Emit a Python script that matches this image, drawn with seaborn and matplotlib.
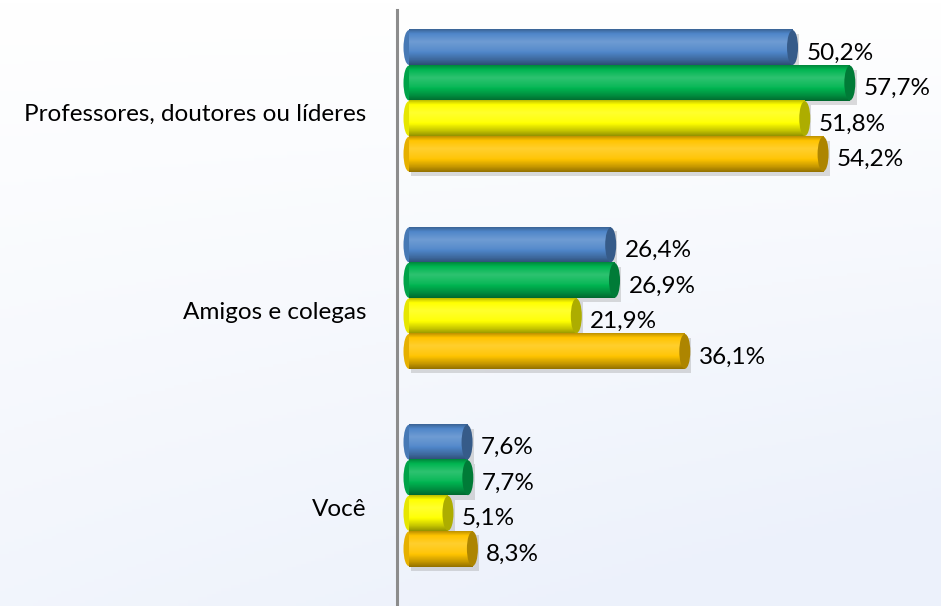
import numpy as np
import pandas as pd
import matplotlib
matplotlib.use("Agg")
import matplotlib.pyplot as plt
import matplotlib.colors as mcolors
from matplotlib.patches import Ellipse
from matplotlib.transforms import ScaledTranslation
import seaborn as sns

categories = ["Professores, doutores ou líderes", "Amigos e colegas", "Você"]
series_names = ["Série 1", "Série 2", "Série 3", "Série 4"]
serie1 = [50.2, 26.4, 7.6]
serie2 = [57.7, 26.9, 7.7]
serie3 = [51.8, 21.9, 5.1]
serie4 = [54.2, 36.1, 8.3]

rows = []
for name, vals in zip(series_names, [serie1, serie2, serie3, serie4]):
    for c, v in zip(categories, vals):
        rows.append({"categoria": c, "serie": name, "valor": v})
df = pd.DataFrame(rows)

colors = ["#4F86C9", "#00B551", "#FFFF00", "#FFC400"]

sns.set_theme(style="white")
plt.rcParams["font.family"] = ["Lato", "DejaVu Sans"]

fig = plt.figure(figsize=(9.41, 6.06), dpi=100)

# background gradient
bg = fig.add_axes([0, 0, 1, 1], zorder=-10)
yy, xx = np.mgrid[0:1:200j, 0:1:200j]
t = np.clip(0.55 * yy + 0.45 * xx * yy + 0.15 * yy, 0, 1)
top = np.array(mcolors.to_rgb("#FFFFFF"))
bot = np.array(mcolors.to_rgb("#ECF1FB"))
img = top[None, None, :] * (1 - t[..., None]) + bot[None, None, :] * t[..., None]
bg.imshow(img, aspect="auto", extent=(0, 1, 0, 1))
bg.axis("off")

ax = fig.add_axes([397 / 941, 0, 1 - 397 / 941, 1 - 10 / 606])
ax.patch.set_alpha(0)

sns.barplot(data=df, y="categoria", x="valor", hue="serie", orient="h",
            palette=colors, width=0.72, gap=0, dodge=True, ax=ax,
            legend=False, saturation=1, edgecolor="none")

s_px = 7.64
xmin = -12 / s_px
xmax = (941 - 409) / s_px
cap_w = 11 / s_px


def shade(rgb, n=60):
    tt = np.linspace(0, 1, n)
    light = np.interp(tt, [0, 0.12, 0.35, 0.6, 0.85, 1.0],
                      [-0.25, 0.0, 0.18, 0.05, -0.22, -0.42])
    out = np.empty((n, 1, 3))
    for i, l in enumerate(light):
        if l >= 0:
            c = rgb + (1 - rgb) * l
        else:
            c = rgb * (1 + l)
        out[i, 0, :] = np.clip(c, 0, 1)
    return out


bars = [p for p in ax.patches]
for i, p in enumerate(bars):
    x0, y0, w, h = p.get_x(), p.get_y(), p.get_width(), p.get_height()
    if w <= 0:
        continue
    rgb = np.array(p.get_facecolor()[:3])
    ax.add_patch(plt.Rectangle((x0 + 0.3, y0 + h * 0.12), w + cap_w * 0.4, h,
                               facecolor="#9A9A9A", alpha=0.35, lw=0, zorder=1))
    ax.imshow(shade(rgb), extent=(x0, x0 + w, y0 + h, y0), origin="upper",
              aspect="auto", zorder=3, interpolation="bilinear")
    p.set_zorder(2)
    cap = Ellipse((x0 + w, y0 + h / 2), width=cap_w, height=h * 0.98,
                  facecolor=tuple(rgb * 0.68), edgecolor="none", zorder=4)
    ax.add_patch(cap)
    lcap = Ellipse((x0, y0 + h / 2), width=cap_w, height=h * 0.98,
                   facecolor=tuple(np.clip(rgb * 0.9, 0, 1)), edgecolor="none", zorder=2.5)
    ax.add_patch(lcap)
    ax.annotate(f"{w:.1f}".replace(".", ",") + "%", (x0 + w, y0 + h / 2),
                xytext=(10, -4), textcoords="offset points", ha="left",
                va="center", fontsize=17.5, color="#000000", zorder=5)

ax.set_xlim(xmin, xmax)
ax.set_ylim(2 + 0.56, -0.46)
ax.set_xlabel("")
ax.set_ylabel("")
ax.set_xticks([])
ax.tick_params(axis="y", length=0, pad=22, labelsize=17.5, labelcolor="#000000")
offset = ScaledTranslation(0, -12 / 100, fig.dpi_scale_trans)
for lab in ax.get_yticklabels():
    lab.set_transform(lab.get_transform() + offset)
for side in ["top", "right", "bottom"]:
    ax.spines[side].set_visible(False)
ax.spines["left"].set_color("#8C8C8C")
ax.spines["left"].set_linewidth(2.2)

fig.savefig("out.png", dpi=100)
